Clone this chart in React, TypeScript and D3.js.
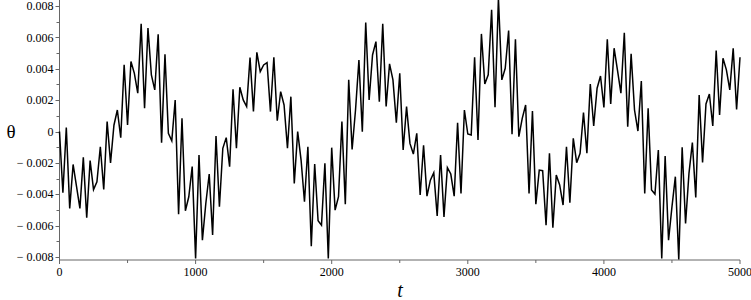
import { useEffect, useRef } from 'react';
import * as d3 from 'd3';

// theta samples (in units of 1e-3), one every 25 time units from t = 0 to 5000
const thetaE3 = [
  0, -3.9, 0.25, -4.9, -2.1, -3.5, -4.9, -1.65, -5.5, -1.85,
  -3.7, -3.2, -0.97, -3.7, 0.63, -2.0, 0.4, 1.37, -0.4, 4.25,
  0.41, 4.46, 3.71, 2.44, 6.86, 1.48, 6.59, 3.61, 2.65, 6.2,
  -0.71, 4.93, -0.12, -0.59, 2.0, -5.27, 0.84, -5.05, -4.16, -2.24,
  -8.1, -1.5, -6.93, -4.59, -2.71, -6.6, -0.29, -4.8, -1.07, -0.39,
  -2.24, 2.69, -1.07, 2.82, 2.01, 1.59, 4.71, 1.27, 5.05, 3.82,
  4.24, 4.39, 1.27, 4.73, 0.69, 2.54, 1.69, -1.07, 2.22, -3.31,
  -0.01, -1.82, -4.48, -0.97, -7.31, -2.07, -5.69, -5.97, -2.03, -8.1,
  -1.03, -5.01, -4.16, 0.63, -4.63, 3.29, -1.14, 1.37, 4.56, -0.01,
  6.95, 2.01, 4.88, 5.73, 1.9, 6.86, 1.59, 4.31, 3.29, 0.56,
  3.71, -1.18, 1.59, -0.76, -1.44, -0.12, -4.05, -0.88, -4.12, -3.1,
  -2.63, -5.39, -1.5, -5.44, -2.31, -2.71, -4.12, 0.56, -3.95, 1.37,
  -0.16, -0.22, 4.73, -0.54, 6.22, 3.03, 3.61, 7.76, 1.54, 8.5,
  3.29, 4.03, 6.44, -0.18, 5.88, -0.33, 0.84, 1.69, -3.95, 1.31,
  -4.63, -2.46, -2.5, -5.97, -1.39, -6.14, -2.78, -3.41, -4.69, -0.97,
  -4.54, -0.44, -1.99, -1.39, 1.2, -1.39, 3.03, 0.35, 2.76, 3.54,
  1.54, 5.88, 1.76, 5.31, 3.9, 2.44, 6.29, 0.31, 4.95, 1.37,
  0.03, 3.22, -3.95, 1.48, -3.73, -3.99, -1.18, -8.1, -1.56, -6.93,
  -4.8, -2.88, -8.16, -1.01, -5.86, -2.67, -0.71, -4.2, 2.33, -1.97,
  1.76, 2.39, 0.35, 5.16, 1.05, 4.67, 3.93, 2.65, 5.31, 1.41,
  4.73,
];
const tStep = 25;

const xTickValues = [0, 1000, 2000, 3000, 4000, 5000];
const xMinorTicks = [500, 1500, 2500, 3500, 4500];
const yTickValues = [-0.008, -0.006, -0.004, -0.002, 0, 0.002, 0.004, 0.006, 0.008];
const yMinorTicks = [-0.007, -0.005, -0.003, -0.001, 0.001, 0.003, 0.005, 0.007];

const W = 751;
const H = 300;
const FONT = 'Liberation Serif, Times New Roman, DejaVu Serif, serif';

const fmtY = (v: number) => {
  if (Math.abs(v) < 1e-12) return '0';
  const s = Math.abs(v).toFixed(3);
  return v < 0 ? '\u2212 ' + s : s;
};

const App = () => {
  const svgRef = useRef<SVGSVGElement>(null);

  useEffect(() => {
    const svg = d3.select(svgRef.current);
    svg.selectAll('*').remove();

    const data = thetaE3.map((v, i) => ({ t: i * tStep, v: v * 1e-3 }));

    const x = d3.scaleLinear().domain([0, 5000]).range([59.5, 740]);
    const y = d3.scaleLinear().domain([-0.008, 0.008]).range([257, 6]);
    const axisY = 260;
    const axisColor = '#666';

    // axes lines
    svg.append('line')
      .attr('x1', x(0)).attr('x2', x(0))
      .attr('y1', 0).attr('y2', axisY)
      .attr('stroke', axisColor).attr('stroke-width', 1);
    svg.append('line')
      .attr('x1', x(0)).attr('x2', x(5000))
      .attr('y1', axisY).attr('y2', axisY)
      .attr('stroke', axisColor).attr('stroke-width', 1);

    // y ticks
    const gy = svg.append('g').style('font-family', FONT);
    gy.selectAll('line.major').data(yTickValues).join('line')
      .attr('class', 'major')
      .attr('x1', x(0) - 4).attr('x2', x(0))
      .attr('y1', d => Math.round(y(d)) + 0.5).attr('y2', d => Math.round(y(d)) + 0.5)
      .attr('stroke', axisColor);
    gy.selectAll('line.minor').data(yMinorTicks).join('line')
      .attr('class', 'minor')
      .attr('x1', x(0) - 3).attr('x2', x(0))
      .attr('y1', d => Math.round(y(d)) + 0.5).attr('y2', d => Math.round(y(d)) + 0.5)
      .attr('stroke', axisColor);
    gy.selectAll('text').data(yTickValues).join('text')
      .attr('x', x(0) - 6)
      .attr('y', d => y(d))
      .attr('dy', '0.35em')
      .attr('text-anchor', 'end')
      .style('font-family', FONT)
      .attr('font-size', 12)
      .text(d => fmtY(d));

    // x ticks
    const gx = svg.append('g');
    gx.selectAll('line.major').data(xTickValues).join('line')
      .attr('class', 'major')
      .attr('x1', d => x(d)).attr('x2', d => x(d))
      .attr('y1', axisY).attr('y2', axisY + 4)
      .attr('stroke', axisColor);
    gx.selectAll('line.minor').data(xMinorTicks).join('line')
      .attr('class', 'minor')
      .attr('x1', d => x(d)).attr('x2', d => x(d))
      .attr('y1', axisY).attr('y2', axisY + 3)
      .attr('stroke', axisColor);
    gx.selectAll('text').data(xTickValues).join('text')
      .attr('x', d => x(d))
      .attr('y', axisY + 16)
      .attr('text-anchor', 'middle')
      .style('font-family', FONT)
      .attr('font-size', 12)
      .text(d => String(d));

    // axis titles
    svg.append('text')
      .attr('x', 400).attr('y', 297)
      .attr('text-anchor', 'middle')
      .style('font-family', FONT)
      .attr('font-style', 'italic')
      .attr('font-size', 20)
      .text('t');
    svg.append('text')
      .attr('x', 11).attr('y', y(0))
      .attr('dy', '0.35em')
      .attr('text-anchor', 'middle')
      .style('font-family', FONT)
      .attr('font-size', 19)
      .text('\u03b8');

    // series
    const line = d3.line<{ t: number; v: number }>()
      .x(d => x(d.t))
      .y(d => y(d.v));
    svg.append('path')
      .datum(data)
      .attr('d', line)
      .attr('fill', 'none')
      .attr('stroke', '#000')
      .attr('stroke-width', 1.5)
      .attr('stroke-linejoin', 'miter');
  }, []);

  return (
    <svg
      ref={svgRef}
      width={W}
      height={H}
      style={{ position: 'absolute', left: 0, top: 0, background: '#fff' }}
    />
  );
};

export default App;
